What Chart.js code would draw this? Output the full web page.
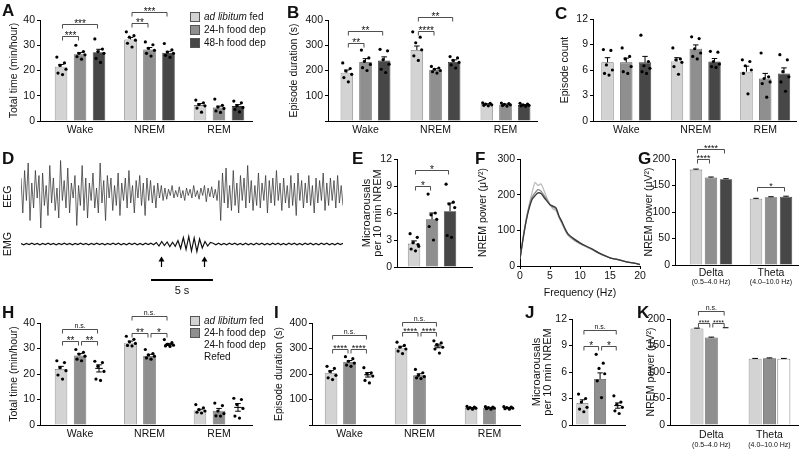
<!DOCTYPE html>
<html>
<head>
<meta charset="utf-8">
<script src="https://cdn.jsdelivr.net/npm/chart.js@4.4.1/dist/chart.umd.min.js"></script>
<style>
body { margin: 0; width: 800px; height: 451px; position: relative; overflow: hidden; background: #fff;
       font-family: "Liberation Sans", Arial, sans-serif; color: #111; }
canvas { position: absolute; }
.letter { position: absolute; font-weight: bold; font-size: 17px; line-height: 17px; }
.leg { position: absolute; font-size: 10px; line-height: 12px; white-space: nowrap; }
.box { position: absolute; width: 10px; height: 10px; box-sizing: border-box; border: 1px solid #555; }
</style>
</head>
<body>
<script>
// ---- data ----
const sleepStates = ['Wake', 'NREM', 'REM'];
const bandNames = ['Delta', 'Theta'];
const bandRanges = ['(0.5–4.0 Hz)', '(4.0–10.0 Hz)'];

// A: total time (min/hour), groups = ad lib, 24-h dep, 48-h dep
const timeMean = [[21.5, 32.3, 6.3], [26.4, 28.3, 5.3], [27.2, 27.0, 5.9]];
const timeSem = [[0.9, 0.8, 0.6], [0.7, 0.8, 0.6], [1.2, 0.6, 0.6]];
const timeDots = [
  [[25.3, 23, 22, 20.5, 19, 18.4], [35.3, 33.8, 33.2, 32, 30.8, 29.3], [8.3, 7.2, 6.5, 6, 5.1, 3.5]],
  [[30, 27.5, 26.8, 26.2, 25.5, 24.5], [31.3, 30.2, 28.8, 28, 26.8, 25.7], [8.7, 6.2, 5.5, 5, 4, 3.4]],
  [[32.5, 28.5, 27.5, 26.8, 24.8, 23.2], [30.7, 28.2, 27.3, 26.8, 26, 25.2], [7.9, 7.2, 6, 5.3, 4.6, 3.6]]
];
const timeSig = [[1, 0, 1, 33.5, '***'], [1, 0, 2, 38.5, '***'], [2, 0, 1, 38.8, '**'], [2, 0, 2, 43.3, '***']];

// B: episode duration (s)
const durMean = [[191, 281, 66], [234, 202, 65], [240, 234, 63]];
const durSem = [[11, 16, 2], [13, 5, 2], [14, 8, 2]];
const durDots = [
  [[230, 208, 198, 185, 172, 155], [353, 332, 310, 282, 258, 240], [72, 70, 67, 64, 62, 60]],
  [[281, 250, 236, 224, 211, 200], [216, 210, 205, 200, 195, 190], [71, 69, 66, 64, 61, 59]],
  [[284, 278, 243, 225, 205, 192], [255, 250, 240, 232, 222, 210], [70, 67, 64, 62, 60, 58]]
];
const durSig = [[1, 0, 1, 309, '**'], [1, 0, 2, 358, '**'], [2, 0, 1, 356, '****'], [2, 0, 2, 411, '**']];

// C: episode count
const countMean = [[6.9, 7.0, 5.8], [6.9, 8.5, 5.0], [6.9, 7.0, 5.6]];
const countSem = [[0.55, 0.45, 0.65], [0.5, 0.45, 0.6], [0.7, 0.35, 0.65]];
const countDots = [
  [[8.4, 8.3, 6.6, 6.0, 5.6, 5.4], [8.6, 7.3, 7.2, 6.9, 6.4, 5.5], [7.2, 7.0, 6.5, 6.0, 5.6, 3.2]],
  [[8.6, 7.6, 7.3, 6.4, 5.8, 5.6], [9.9, 9.7, 8.5, 8.0, 7.6, 7.3], [8.0, 5.2, 5.0, 4.6, 4.4, 2.8]],
  [[10.1, 7.0, 6.5, 6.2, 5.8, 5.6], [8.2, 8.1, 7.0, 6.7, 6.4, 6.3], [7.8, 7.2, 5.8, 5.2, 4.6, 3.5]]
];

// D: example EEG / EMG trace (arbitrary units), 26 s
const eegTrace = [0.6,-0.8,0.9,-0.3,1.2,-1.1,0.4,-0.6,0.9,-0.2,0.7,-1.4,0.8,-0.5,0.3,-0.9,1.1,-0.4,0.6,-0.7,
  0.2,-1.0,1.3,-0.3,0.5,-0.6,1.0,-0.8,0.4,-0.2,0.7,-1.3,0.3,-0.5,1.1,-0.7,0.6,-1.0,0.4,-0.3,
  0.8,-0.6,0.2,-0.8,1.2,-0.4,0.5,-1.1,0.7,-0.2,0.6,-0.7,0.3,-0.5,0.8,-0.9,0.4,-0.3,0.6,-0.6,
  0.9,-0.4,0.3,-0.8,0.5,-0.2,0.7,-0.5,0.4,-0.9,0.6,-0.3,0.5,-0.4,0.3,-0.6,0.4,-0.2,0.3,-0.3,
  0.2,-0.25,0.15,-0.1,0.3,-0.2,0.1,-0.15,0.25,-0.2,0.1,-0.3,0.2,-0.1,0.15,-0.2,0.3,-0.15,0.1,-0.25,
  0.2,-0.1,0.3,-0.35,0.2,-0.15,0.25,-0.2,0.15,-0.3,
  0.5,-1.1,0.8,-0.4,1.0,-0.6,0.3,-0.7,0.9,-0.5,0.4,-0.8,0.7,-0.3,0.6,-0.6,1.1,-0.4,0.5,-0.7,
  0.3,-0.5,0.8,-0.6,0.4,-0.3,0.7,-0.8,0.5,-0.4,0.6,-0.5,0.9,-0.3,0.4,-0.7,0.6,-0.4,0.3,-0.6,
  0.7,-0.5,0.4,-0.9,0.8,-0.3,0.5,-0.6,0.4,-0.4,0.7,-0.5,0.3,-0.8,0.6,-0.4,0.5,-0.3,0.8,-0.7,
  0.4,-0.5,0.6,-0.3,0.5,-0.6,0.7,-0.4,0.3,-0.5];
const emgTrace = [0.02,-0.03,0.02,-0.02,0.03,-0.02,0.02,-0.03,0.02,-0.02,0.03,-0.02,0.02,-0.03,0.02,-0.02,0.03,-0.02,0.02,-0.03,
  0.02,-0.02,0.03,-0.02,0.02,-0.03,0.02,-0.02,0.03,-0.02,0.02,-0.03,0.02,-0.02,0.03,-0.02,0.03,-0.03,0.02,-0.03,
  0.03,-0.02,0.03,-0.03,0.02,-0.03,0.03,-0.02,0.03,-0.03,
  0.06,-0.08,0.1,-0.06,0.08,-0.1,0.07,-0.09,0.14,-0.18,0.26,-0.22,0.3,-0.28,0.24,-0.3,0.2,-0.16,0.1,-0.08,0.06,
  0.03,-0.03,0.03,-0.03,0.02,-0.03,0.03,-0.02,0.03,-0.03,0.02,-0.03,0.03,-0.03,0.02,-0.03,0.03,-0.02,0.03,-0.03,
  0.02,-0.03,0.03,-0.02,0.03,-0.03,0.02,-0.03,0.03,-0.02,0.03,-0.03,0.02,-0.03,0.03,-0.02,0.03,-0.03,0.02,-0.03,
  0.03,-0.02,0.03,-0.03,0.02,-0.03,0.03,-0.02,0.03];
const traceSeconds = 26;
const arrowTimes = [11.3, 14.8];
const scaleBarStart = 10.5;
const scaleBarLen = 5;

// E: microarousals per 10 min NREM
const maMean = [[2.6], [5.3], [6.2]];
const maSem = [[0.3], [0.7], [0.9]];
const maDots = [[[3.7, 3.3, 2.7, 2.3, 2.0, 1.8, 2.5]], [[8.1, 6.0, 5.8, 5.3, 4.5, 3.0]], [[9.2, 7.2, 7.0, 6.6, 3.5, 3.3]]];
const maSig = [[1, 0, 1, 9.0, '*'], [1, 0, 2, 10.8, '*']];

// F: NREM power spectrum
const freqHz = [0, 0.5, 1, 1.5, 2, 2.5, 3, 3.5, 4, 4.5, 5, 5.5, 6, 6.5, 7, 7.5, 8, 9, 10, 11, 12, 13, 14, 15, 16, 17, 18, 19, 20];
const powerAdLib = [20, 78, 128, 170, 205, 234, 226, 230, 212, 190, 172, 160, 155, 135, 118, 100, 86, 72, 62, 54, 46, 37, 29, 23, 19, 15, 11, 8, 5];
const power24h = [20, 76, 126, 165, 192, 205, 214, 210, 198, 185, 172, 165, 160, 138, 121, 103, 88, 74, 64, 55, 47, 37, 30, 23, 19, 15, 11, 8, 4];
const power48h = [20, 75, 124, 160, 186, 197, 205, 203, 192, 182, 172, 168, 163, 140, 124, 105, 90, 76, 65, 56, 48, 38, 30, 23, 19, 15, 11, 8, 4];

// G: band power
const bandMean = [[180, 125], [165, 128], [162, 129]];
const bandSem = [[1, 0.8], [1, 0.8], [0.8, 0.8]];
const bandSig = [[1, 0, 1, 200, '****'], [1, 0, 2, 219, '****'], [2, 0, 2, 148, '*']];

// H: total time with refeeding
const refTimeMean = [[22, 32.3, 5.7], [27.3, 27.1, 5.6], [22.2, 31.6, 6.9]];
const refTimeSem = [[1, 0.6, 0.5], [0.7, 0.6, 0.9], [1.4, 0.4, 1.5]];
const refTimeDots = [
  [[25.2, 24.5, 22.5, 21.3, 19.6, 18], [34.8, 33.6, 32.6, 32, 31.2, 31], [8, 6.7, 6, 5.5, 5, 4.7]],
  [[29.6, 28.5, 27.8, 27, 25.8, 25.2], [29.6, 28, 27.5, 27, 26.3, 25.8], [8.6, 7.6, 5.5, 4.5, 3.6, 3.5]],
  [[25, 24.5, 23, 21, 18, 17.5], [33.5, 32.3, 31.6, 31.3, 31, 30.8], [10.5, 10, 8, 6.5, 3.5, 2.7]]
];
const refTimeSig = [[1, 0, 1, 33, '**'], [1, 1, 2, 33, '**'], [1, 0, 2, 37.5, 'n.s.'],
  [2, 0, 1, 36.2, '**'], [2, 1, 2, 36.2, '*'], [2, 0, 2, 42.7, 'n.s.']];

// I: episode duration with refeeding
const refDurMean = [[203, 303, 67], [247, 195, 67], [197, 310, 67]];
const refDurSem = [[10, 6, 2], [6, 6, 2], [9, 7, 2]];
const refDurDots = [
  [[230, 222, 210, 195, 185, 178], [325, 312, 305, 298, 290, 280], [73, 70, 68, 66, 64, 62]],
  [[268, 260, 250, 243, 235, 230], [218, 205, 195, 190, 185, 182], [72, 70, 68, 66, 64, 62]],
  [[225, 205, 200, 192, 175, 165], [330, 322, 315, 305, 298, 282], [72, 70, 68, 66, 64, 62]]
];
const refDurSig = [[1, 0, 1, 297, '****'], [1, 1, 2, 297, '****'], [1, 0, 2, 353, 'n.s.'],
  [2, 0, 1, 366, '****'], [2, 1, 2, 366, '****'], [2, 0, 2, 405, 'n.s.']];

// J: microarousals with refeeding
const refMaMean = [[2.5], [5.2], [2.2]];
const refMaSem = [[0.35], [0.7], [0.3]];
const refMaDots = [[[3.5, 3.0, 2.6, 2.0, 1.8, 1.5]], [[8.0, 7.0, 6.4, 5.8, 5.0, 3.1]], [[3.3, 2.6, 2.3, 2.0, 1.6, 1.3]]];
const refMaSig = [[1, 0, 1, 9.0, '*'], [1, 1, 2, 9.0, '*'], [1, 0, 2, 10.7, 'n.s.']];

// K: band power with refeeding
const refBandMean = [[182, 125], [165, 126], [183, 125]];
const refBandSem = [[0.8, 0.6], [0.8, 0.6], [0.5, 0.6]];
const refBandSig = [[1, 0, 1, 192, '****'], [1, 1, 2, 192, '****'], [1, 0, 2, 216, 'n.s.']];

// ---- styling ----
Chart.defaults.font.family = '"Liberation Sans", Arial, sans-serif';
Chart.defaults.color = '#111';
const FILLS = ['#d3d3d3', '#8f8f8f', '#474747'];
const EDGES = ['#707070', '#555555', '#333333'];
const JITTER = [-0.22, 0.18, -0.06, 0.26, -0.16, 0.08, 0.22];
const FONT = '"Liberation Sans", Arial, sans-serif';
const TICK = 10.5;

function addCanvas(left, top, w, h) {
  const cv = document.createElement('canvas');
  cv.width = w; cv.height = h;
  cv.style.left = left + 'px'; cv.style.top = top + 'px';
  document.body.appendChild(cv);
  return cv;
}

function yAxis(p) {
  return {
    min: 0, max: p.yMax,
    ticks: { stepSize: p.yStep, font: { size: TICK }, padding: 2,
             callback: v => (p.hideZero && v === 0) ? '' : v },
    grid: { display: true, drawOnChartArea: false, drawTicks: true, tickLength: 3, color: '#000' },
    border: { display: true, color: '#000', width: 1 },
    title: { display: true, text: p.title, padding: 0,
             font: { size: p.titleSize || 10.5, lineHeight: p.titleLH || 1 } },
    afterFit: s => { s.width = p.axisX - Math.round(p.left); }
  };
}

// error bars, significance brackets and small sub-labels
function extras(p) {
  return {
    id: 'extras',
    afterDatasetDraw(chart, args) {
      if (args.index !== 0) return;
      const ctx = chart.ctx, y = chart.scales.y;
      ctx.save();
      ctx.strokeStyle = '#000';
      ctx.lineWidth = 1;
      p.means.forEach((m, g) => {
        const meta = chart.getDatasetMeta(g);
        m.forEach((v, i) => {
          const el = meta.data[i], s = p.sems[g][i];
          const x = el.x, yT = y.getPixelForValue(v + s), yM = y.getPixelForValue(v);
          const cap = el.width * 0.22;
          ctx.beginPath();
          if (p.hollow && p.hollow[g]) {
            const yB = y.getPixelForValue(v - s);
            ctx.moveTo(x - el.width * 0.3, yM); ctx.lineTo(x + el.width * 0.3, yM);
            ctx.moveTo(x, yB); ctx.lineTo(x, yT);
            ctx.moveTo(x - cap, yB); ctx.lineTo(x + cap, yB);
          } else {
            ctx.moveTo(x, yM); ctx.lineTo(x, yT);
          }
          ctx.moveTo(x - cap, yT); ctx.lineTo(x + cap, yT);
          ctx.stroke();
        });
      });
      ctx.restore();
    },
    afterDraw(chart) {
      const ctx = chart.ctx, y = chart.scales.y, xs = chart.scales.x;
      const star = p.starSize || 10;
      ctx.save();
      ctx.strokeStyle = '#222';
      ctx.fillStyle = '#111';
      ctx.lineWidth = 0.8;
      ctx.textAlign = 'center';
      ctx.textBaseline = 'alphabetic';
      (p.sig || []).forEach(([c, a, b, v, t]) => {
        const xa = chart.getDatasetMeta(a).data[c - 1].x + 1.5;
        const xb = chart.getDatasetMeta(b).data[c - 1].x - 1.5;
        const py = Math.round(y.getPixelForValue(v)) + 0.5;
        ctx.beginPath();
        ctx.moveTo(xa, py + 4); ctx.lineTo(xa, py); ctx.lineTo(xb, py); ctx.lineTo(xb, py + 4);
        ctx.stroke();
        if (t === 'n.s.') {
          ctx.font = '7px ' + FONT;
          ctx.fillText(t, (xa + xb) / 2, py - 2);
        } else {
          ctx.font = star + 'px ' + FONT;
          ctx.fillText(t, (xa + xb) / 2, py + star * 0.2);
        }
      });
      if (p.sub) {
        ctx.font = '7px ' + FONT;
        ctx.textBaseline = 'middle';
        p.sub.forEach((t, i) => ctx.fillText(t, xs.getPixelForValue(i + 1), chart.chartArea.bottom + p.subDy));
      }
      ctx.restore();
    }
  };
}

function barPanel(p) {
  const left = Math.round(p.left);
  const w = p.right + p.padR - left, h = p.bottom + p.xH - p.top;
  const cv = addCanvas(left, p.top, w, h);
  const nCat = p.cats.length;
  const span = nCat === 1 ? (p.xMax - p.xMin) : 1;
  const slot = span * p.catPct / 3;
  const datasets = [];
  p.means.forEach((m, g) => {
    const hollow = p.hollow && p.hollow[g];
    datasets.push({
      type: 'bar', order: 1,
      data: m.map((v, i) => ({ x: i + 1, y: v })),
      backgroundColor: hollow ? 'rgba(0,0,0,0)' : (p.fills ? p.fills[g] : FILLS[g]),
      borderColor: hollow ? 'rgba(0,0,0,0)' : (p.edges ? p.edges[g] : EDGES[g]),
      borderWidth: 0.8, categoryPercentage: p.catPct, barPercentage: p.barPct
    });
  });
  (p.dots || []).forEach((grp, g) => {
    const pts = [];
    grp.forEach((vals, i) => vals.forEach((v, k) => pts.push({
      x: i + 1 + (g - 1) * slot + JITTER[k % JITTER.length] * slot, y: v })));
    datasets.push({ type: 'scatter', order: 0, data: pts, pointRadius: 1.6,
                    pointBackgroundColor: '#000', pointBorderWidth: 0 });
  });
  new Chart(cv, {
    type: 'bar',
    data: { datasets },
    options: {
      responsive: false, animation: false, events: [],
      layout: { padding: { top: p.plotTop - p.top, right: p.padR, left: 0, bottom: 0 } },
      plugins: { legend: { display: false }, tooltip: { enabled: false } },
      scales: {
        x: {
          type: 'linear', min: p.xMin, max: p.xMax, offset: false,
          afterBuildTicks: s => { s.ticks = p.cats.map((c, i) => ({ value: i + 1 })); },
          ticks: { callback: v => p.cats[v - 1] || '', font: { size: TICK }, padding: p.xPad || 3,
                   maxRotation: 0, autoSkip: false },
          grid: { display: false, drawTicks: false, offset: false },
          border: { display: true, color: '#000', width: 1 },
          afterFit: s => { s.height = p.xH; }
        },
        y: yAxis(p)
      }
    },
    plugins: [extras(p)]
  });
}

// ---- panels ----
barPanel({ left: 9, top: 0, axisX: 40, right: 252, padR: 4, plotTop: 20, bottom: 121, xH: 20,
  xMin: 0.424, xMax: 3.475, catPct: 0.82, barPct: 0.66, cats: sleepStates,
  yMax: 40, yStep: 10, title: 'Total time (min/hour)',
  means: timeMean, sems: timeSem, dots: timeDots, sig: timeSig });

barPanel({ left: 289, top: 0, axisX: 328, right: 537, padR: 4, plotTop: 20, bottom: 121, xH: 20,
  xMin: 0.464, xMax: 3.45, catPct: 0.80, barPct: 0.67, cats: sleepStates,
  yMax: 400, yStep: 100, hideZero: true, title: 'Episode duration (s)',
  means: durMean, sems: durSem, dots: durDots, sig: durSig });

barPanel({ left: 560, top: 5, axisX: 593, right: 797, padR: 3, plotTop: 19, bottom: 121, xH: 20,
  xMin: 0.521, xMax: 3.443, catPct: 0.81, barPct: 0.66, cats: sleepStates,
  yMax: 12, yStep: 3, title: 'Episode count',
  means: countMean, sems: countSem, dots: countDots, sig: [] });

barPanel({ left: 361, top: 150, axisX: 397, right: 472, padR: 4, plotTop: 159, bottom: 267, xH: 12,
  xMin: 0.5, xMax: 1.57, catPct: 0.72, barPct: 0.69, cats: [''],
  yMax: 12, yStep: 3, title: ['Microarousals', 'per 10 min NREM'], titleSize: 11, titleLH: 1,
  means: maMean, sems: maSem, dots: maDots, sig: maSig });

barPanel({ left: 644, top: 140, axisX: 675, right: 798, padR: 2, plotTop: 159, bottom: 265, xH: 24,
  xMin: 0.4, xMax: 2.45, catPct: 0.75, barPct: 0.83, cats: bandNames, sub: bandRanges, subDy: 17, xPad: 2,
  yMax: 200, yStep: 50, title: 'NREM power (μV²)', starSize: 9,
  means: bandMean, sems: bandSem, sig: bandSig });

barPanel({ left: 9, top: 305, axisX: 40, right: 252, padR: 4, plotTop: 323, bottom: 425, xH: 20,
  xMin: 0.424, xMax: 3.475, catPct: 0.82, barPct: 0.66, cats: sleepStates, hollow: [false, false, true],
  yMax: 40, yStep: 10, title: 'Total time (min/hour)',
  means: refTimeMean, sems: refTimeSem, dots: refTimeDots, sig: refTimeSig });

barPanel({ left: 274, top: 305, axisX: 312, right: 520, padR: 4, plotTop: 323, bottom: 425, xH: 20,
  xMin: 0.464, xMax: 3.436, catPct: 0.79, barPct: 0.68, cats: sleepStates, hollow: [false, false, true],
  yMax: 400, yStep: 100, hideZero: true, title: 'Episode duration (s)', starSize: 9,
  means: refDurMean, sems: refDurSem, dots: refDurDots, sig: refDurSig });

barPanel({ left: 531, top: 305, axisX: 572, right: 625, padR: 4, plotTop: 319, bottom: 425, xH: 12,
  xMin: 0.47, xMax: 1.47, catPct: 1.0, barPct: 0.68, cats: [''], hollow: [false, false, true],
  yMax: 12, yStep: 3, title: ['Microarousals', 'per 10 min NREM'], titleSize: 11, titleLH: 1,
  means: refMaMean, sems: refMaSem, dots: refMaDots, sig: refMaSig });

barPanel({ left: 646, top: 300, axisX: 670, right: 798, padR: 2, plotTop: 319, bottom: 425, xH: 26,
  xMin: 0.29, xMax: 2.49, catPct: 0.74, barPct: 0.9, cats: bandNames, sub: bandRanges, subDy: 20, xPad: 4,
  yMax: 200, yStep: 50, title: 'NREM power (μV²)', starSize: 7,
  fills: [FILLS[0], FILLS[1], '#ffffff'], edges: [EDGES[0], EDGES[1], ['rgba(0,0,0,0)', '#444']],
  means: refBandMean, sems: refBandSem, sig: refBandSig });

// F: spectrum
(function () {
  const left = 478, top = 150, axisX = 520, right = 640, padR = 10, plotTop = 159, bottom = 266, xH = 32;
  const cv = addCanvas(left, top, right + padR - left, bottom + xH - top);
  const series = [[power48h, '#3a3a3a', 0], [power24h, '#858585', 1], [powerAdLib, '#bdbdbd', 2]];
  new Chart(cv, {
    type: 'line',
    data: { datasets: series.map(([vals, col, ord]) => ({
      data: vals.map((v, i) => ({ x: freqHz[i], y: v })), borderColor: col, borderWidth: 1.3,
      pointRadius: 0, tension: 0.25, fill: false, order: ord })) },
    options: {
      responsive: false, animation: false, events: [],
      layout: { padding: { top: plotTop - top, right: padR, left: 0, bottom: 0 } },
      plugins: { legend: { display: false }, tooltip: { enabled: false } },
      scales: {
        x: { type: 'linear', min: 0, max: 20,
             ticks: { stepSize: 5, font: { size: TICK }, padding: 1, maxRotation: 0 },
             grid: { display: true, drawOnChartArea: false, drawTicks: true, tickLength: 3, color: '#000' },
             border: { display: true, color: '#000', width: 1 },
             title: { display: true, text: 'Frequency (Hz)', padding: 0, font: { size: 10.5, lineHeight: 1 } },
             afterFit: s => { s.height = xH; } },
        y: yAxis({ yMax: 300, yStep: 100, title: 'NREM power (μV²)', axisX, left })
      }
    }
  });
})();

// D: EEG / EMG example trace (canvas from x=0, plot starts at x=21)
(function () {
  const cv = addCanvas(0, 160, 343, 140);
  const eegStep = traceSeconds / (eegTrace.length - 1);
  const emgStep = traceSeconds / (emgTrace.length - 1);
  const traceMarks = {
    id: 'traceMarks',
    afterDraw(chart) {
      const ctx = chart.ctx, x = chart.scales.x, y2 = chart.scales.y2;
      ctx.save();
      ctx.strokeStyle = '#000';
      ctx.fillStyle = '#000';
      ctx.lineWidth = 1.2;
      arrowTimes.forEach(t => {
        const px = Math.round(x.getPixelForValue(t)) + 0.5;
        const yTip = y2.getPixelForValue(-0.5), yEnd = y2.getPixelForValue(-0.92);
        ctx.beginPath(); ctx.moveTo(px, yEnd); ctx.lineTo(px, yTip + 1); ctx.stroke();
        ctx.beginPath(); ctx.moveTo(px, yTip); ctx.lineTo(px - 3, yTip + 5); ctx.lineTo(px + 3, yTip + 5);
        ctx.closePath(); ctx.fill();
      });
      const yBar = y2.getPixelForValue(-1.44);
      ctx.lineWidth = 2;
      ctx.beginPath();
      ctx.moveTo(x.getPixelForValue(scaleBarStart), yBar);
      ctx.lineTo(x.getPixelForValue(scaleBarStart + scaleBarLen), yBar);
      ctx.stroke();
      ctx.font = '11px ' + FONT;
      ctx.textAlign = 'center';
      ctx.textBaseline = 'middle';
      ctx.fillStyle = '#111';
      ctx.fillText(scaleBarLen + ' s', x.getPixelForValue(scaleBarStart + scaleBarLen / 2), y2.getPixelForValue(-1.86));
      // trace labels
      ctx.font = '10.5px ' + FONT;
      [['EEG', chart.scales.y.getPixelForValue(-0.15)], ['EMG', y2.getPixelForValue(0)]].forEach(([t, py]) => {
        ctx.save();
        ctx.translate(8, py);
        ctx.rotate(-Math.PI / 2);
        ctx.fillText(t, 0, 0);
        ctx.restore();
      });
      ctx.restore();
    }
  };
  new Chart(cv, {
    type: 'line',
    data: { datasets: [
      { data: eegTrace.map((v, i) => ({ x: i * eegStep, y: v })), yAxisID: 'y', borderColor: '#333',
        borderWidth: 0.75, pointRadius: 0, tension: 0 },
      { data: emgTrace.map((v, i) => ({ x: i * emgStep, y: v })), yAxisID: 'y2', borderColor: '#111',
        borderWidth: 1.2, pointRadius: 0, tension: 0 }
    ] },
    options: {
      responsive: false, animation: false, events: [],
      layout: { padding: { left: 21, top: 0, right: 0, bottom: 0 } },
      plugins: { legend: { display: false }, tooltip: { enabled: false } },
      scales: {
        x: { type: 'linear', min: 0, max: traceSeconds, display: false },
        y: { min: -4.28, max: 1.32, display: false },
        y2: { min: -2.24, max: 3.36, display: false }
      }
    },
    plugins: [traceMarks]
  });
})();

// ---- letters, legends ----
function addDiv(cls, html, left, top) {
  const d = document.createElement('div');
  d.className = cls; d.innerHTML = html;
  d.style.left = left + 'px'; d.style.top = top + 'px';
  document.body.appendChild(d);
  return d;
}
[['A', 2, 2], ['B', 287, 4], ['C', 555, 5], ['D', 2, 150], ['E', 352, 150], ['F', 475, 150],
 ['G', 638, 150], ['H', 2, 304], ['I', 274, 304], ['J', 525, 304], ['K', 637, 304]]
  .forEach(([t, x, y]) => addDiv('letter', t, x, y));

function legendRow(fill, html, y) {
  if (fill) {
    const b = addDiv('box', '', 190, y - 5);
    b.style.background = fill;
  }
  addDiv('leg', html, 204, y - 6);
}
legendRow(FILLS[0], '<i>ad libitum</i> fed', 16.5);
legendRow(FILLS[1], '24-h food dep', 29.5);
legendRow(FILLS[2], '48-h food dep', 43);
legendRow(FILLS[0], '<i>ad libitum</i> fed', 321);
legendRow(FILLS[1], '24-h food dep', 333);
legendRow(null, '24-h food dep', 345);
legendRow(null, 'Refed', 357);
</script>
</body>
</html>
